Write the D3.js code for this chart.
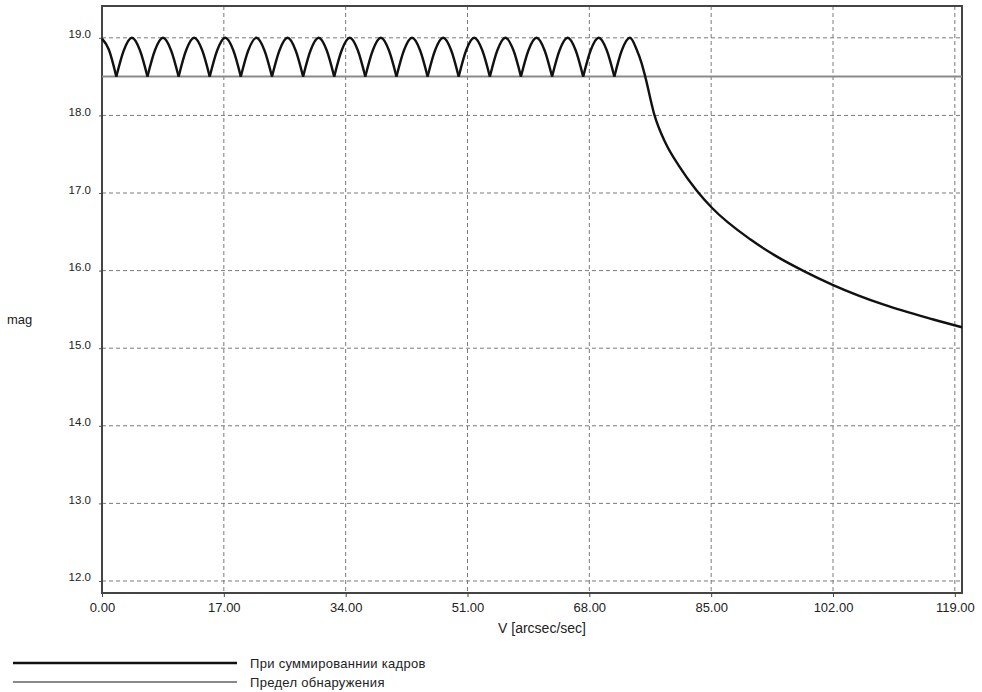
<!DOCTYPE html>
<html>
<head>
<meta charset="utf-8">
<script src="https://cdn.jsdelivr.net/npm/d3@7"></script>
<style>
  body { margin: 0; background: #fff; }
  text { font-family: "Liberation Sans", Arial, sans-serif; fill: #222; }
</style>
</head>
<body>
<div id="chart"></div>
<script>
// Tick values
const xTicks = [0, 17, 34, 51, 68, 85, 102, 119];
const yTicks = [12, 13, 14, 15, 16, 17, 18, 19];

// Limiting magnitude when frames are summed, [V, mag]
const summedCurve = [
  [0.00, 18.99], [0.95, 18.85],
  [2.00, 18.5], [3.05, 18.84], [4.17, 19.0], [5.29, 18.84],
  [6.34, 18.5], [7.39, 18.84], [8.51, 19.0], [9.63, 18.84],
  [10.69, 18.5], [11.74, 18.84], [12.86, 19.0], [13.98, 18.84],
  [15.03, 18.5], [16.08, 18.84], [17.20, 19.0], [18.32, 18.84],
  [19.37, 18.5], [20.42, 18.84], [21.54, 19.0], [22.66, 18.84],
  [23.72, 18.5], [24.77, 18.84], [25.89, 19.0], [27.01, 18.84],
  [28.06, 18.5], [29.11, 18.84], [30.23, 19.0], [31.35, 18.84],
  [32.40, 18.5], [33.45, 18.84], [34.57, 19.0], [35.69, 18.84],
  [36.74, 18.5], [37.79, 18.84], [38.91, 19.0], [40.03, 18.84],
  [41.09, 18.5], [42.14, 18.84], [43.26, 19.0], [44.38, 18.84],
  [45.43, 18.5], [46.48, 18.84], [47.60, 19.0], [48.72, 18.84],
  [49.77, 18.5], [50.82, 18.84], [51.94, 19.0], [53.06, 18.84],
  [54.12, 18.5], [55.17, 18.84], [56.29, 19.0], [57.41, 18.84],
  [58.46, 18.5], [59.51, 18.84], [60.63, 19.0], [61.75, 18.84],
  [62.80, 18.5], [63.85, 18.84], [64.97, 19.0], [66.09, 18.84],
  [67.14, 18.5], [68.19, 18.84], [69.31, 19.0], [70.43, 18.84],
  [71.49, 18.5], [72.54, 18.84], [73.66, 19.0],
  [74.6, 18.85], [75.3, 18.67], [75.8, 18.5], [77.1, 18.0], [78.6, 17.65],
  [80.5, 17.35], [83.0, 17.03], [85.1, 16.81], [90.5, 16.40], [94.0, 16.19],
  [97.8, 16.0], [102.1, 15.81], [109.1, 15.56], [116.0, 15.37], [120.0, 15.27]
];

// Detection limit
const limitCurve = [[0, 18.5], [120, 18.5]];

const legendLabels = ["При суммированнии кадров", "Предел обнаружения"];
const legendColors = ["#111", "#8a8a8a"];

const W = 982, H = 692;
const svg = d3.select("#chart").append("svg")
  .attr("width", W)
  .attr("height", H);

const x = d3.scaleLinear().domain([0, 120]).range([102, 962]);
const y = d3.scaleLinear().domain([11.845, 19.41]).range([593, 6]);

// Grid
svg.append("g").selectAll("line")
  .data(xTicks.filter(d => d > 0))
  .enter().append("line")
  .attr("x1", d => x(d)).attr("x2", d => x(d))
  .attr("y1", y.range()[1]).attr("y2", y.range()[0])
  .attr("stroke", "#7a7a7a")
  .attr("stroke-dasharray", "4,3");

svg.append("g").selectAll("line")
  .data(yTicks)
  .enter().append("line")
  .attr("x1", x.range()[0]).attr("x2", x.range()[1])
  .attr("y1", d => y(d)).attr("y2", d => y(d))
  .attr("stroke", "#7a7a7a")
  .attr("stroke-dasharray", "4,3");

// Axes
const xAxis = svg.append("g")
  .attr("transform", `translate(0,${y.range()[0]})`)
  .call(d3.axisBottom(x).tickValues(xTicks).tickFormat(d3.format(".2f")).tickSize(4).tickSizeOuter(0));
xAxis.select(".domain").remove();
xAxis.selectAll("line").attr("stroke", "#444");
xAxis.selectAll("text")
  .attr("y", 10)
  .style("font-size", "13px")
  .style("font-family", "'Liberation Sans', Arial, sans-serif")
  .attr("fill", "#222");

const yAxis = svg.append("g")
  .attr("transform", `translate(${x.range()[0]},0)`)
  .call(d3.axisLeft(y).tickValues(yTicks).tickFormat(d3.format(".1f")).tickSize(3).tickSizeOuter(0));
yAxis.select(".domain").remove();
yAxis.selectAll("line").attr("stroke", "#555");
yAxis.selectAll("text")
  .attr("x", -11)
  .attr("dy", 0)
  .style("font-size", "11.5px")
  .style("font-family", "'Liberation Sans', Arial, sans-serif")
  .attr("fill", "#1a1a1a");

// Frame
svg.append("rect")
  .attr("x", x.range()[0]).attr("y", y.range()[1])
  .attr("width", x.range()[1] - x.range()[0])
  .attr("height", y.range()[0] - y.range()[1])
  .attr("fill", "none")
  .attr("stroke", "#444")
  .attr("stroke-width", 2);

// Detection limit line
const line = d3.line().x(d => x(d[0])).y(d => y(d[1]));
svg.append("path")
  .datum(limitCurve)
  .attr("d", line)
  .attr("fill", "none")
  .attr("stroke", legendColors[1])
  .attr("stroke-width", 2);

// Split summed curve at the local minima so each arc keeps its cusp
const segments = [];
let seg = [];
summedCurve.forEach((p, i) => {
  seg.push(p);
  const prev = summedCurve[i - 1], next = summedCurve[i + 1];
  if (prev && next && p[1] < prev[1] && p[1] < next[1]) {
    segments.push(seg);
    seg = [p];
  }
});
segments.push(seg);

const curveLine = d3.line().x(d => x(d[0])).y(d => y(d[1])).curve(d3.curveMonotoneX);
svg.append("g").selectAll("path")
  .data(segments)
  .enter().append("path")
  .attr("d", curveLine)
  .attr("fill", "none")
  .attr("stroke", legendColors[0])
  .attr("stroke-width", 2.4)
  .attr("stroke-linejoin", "round");

// Axis titles
svg.append("text")
  .attr("x", 7).attr("y", 324)
  .attr("font-size", "13px")
  .text("mag");

svg.append("text")
  .attr("x", 542).attr("y", 633)
  .attr("text-anchor", "middle")
  .attr("font-size", "14px")
  .text("V [arcsec/sec]");

// Legend
const legend = svg.append("g").selectAll("g")
  .data(legendLabels)
  .enter().append("g")
  .attr("transform", (d, i) => `translate(0,${663 + i * 19})`);

legend.append("line")
  .attr("x1", 13).attr("x2", 237)
  .attr("stroke", (d, i) => legendColors[i])
  .attr("stroke-width", (d, i) => i === 0 ? 2.6 : 2);

legend.append("text")
  .attr("x", 250)
  .attr("dy", "0.35em")
  .attr("font-size", "13px")
  .attr("letter-spacing", "0.3px")
  .text(d => d);
</script>
</body>
</html>
